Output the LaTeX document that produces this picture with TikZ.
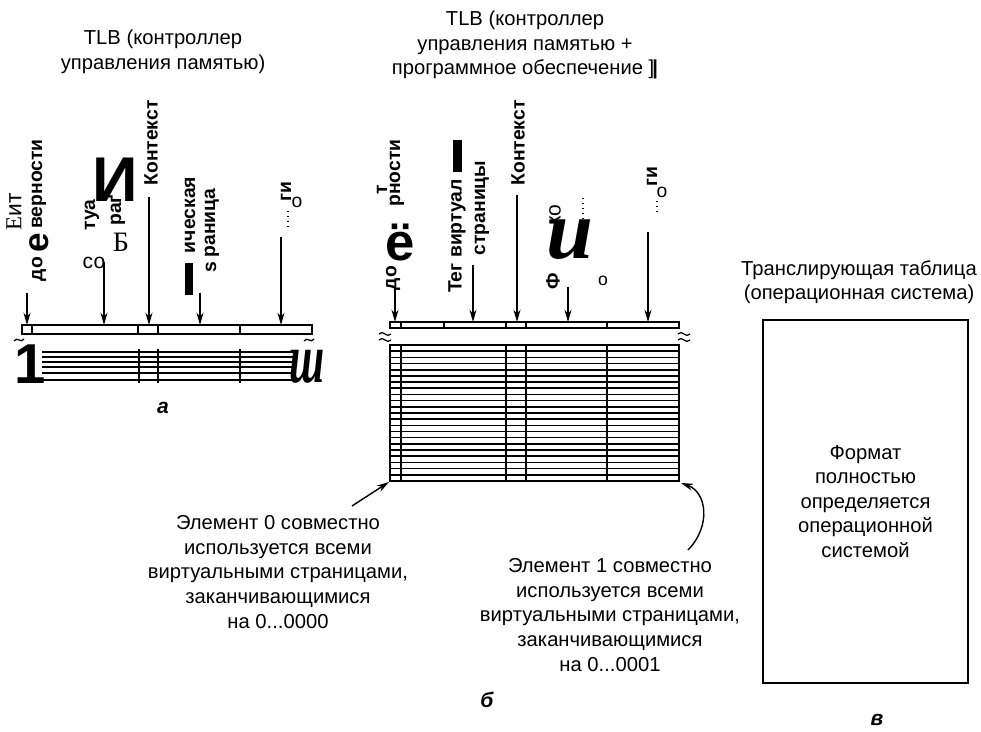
\documentclass[tikz,border=0pt]{standalone}
\usepackage{fontspec}
\setmainfont{Liberation Sans}
\newfontfamily\serifcyr{Liberation Serif}
\usetikzlibrary{arrows.meta}

\begin{document}
\begin{tikzpicture}[x=0.02cm,y=-0.02cm,
  txt/.style={font=\fontsize{11.5}{14}\selectfont,align=center,inner sep=0},
  vtxt/.style={rotate=90,font=\fontsize{11}{13}\selectfont\bfseries,inner sep=0},
  blob/.style={font=\fontsize{#1}{#1}\selectfont\bfseries,inner sep=0},
  ptr/.style={-{Stealth[length=7pt,width=4pt]},line width=0.8pt},
  rule/.style={line width=0.7pt},
  heavy/.style={line width=1.1pt},
  wave/.style={line width=0.7pt},
  tag/.style={font=\fontsize{12}{14}\selectfont\bfseries\itshape,inner sep=0}]
  \useasboundingbox (0,0) rectangle (981,732);

  % a
  \node[txt] (tlba) at (163,52) {TLB (контроллер\\управления памятью)};
  \node[vtxt,font=\fontsize{13}{13}\selectfont] (bita) at (14,212) {{\serifcyr Е}ит};
  \node[vtxt] (doa) at (39,269) {до};
  \node[vtxt,blob=20] (ea) at (39,243) {е};
  \node[vtxt] (vera) at (39,184) {верности};
  \node[vtxt] (tuaa) at (92,215) {туа};
  \node[vtxt] (raa) at (116,210) {раґ};
  \node[font=\serifcyr\fontsize{16}{16}\selectfont,inner sep=0] (bba) at (121,242) {Б};
  \node[font=\fontsize{12}{12}\selectfont,inner sep=0] (coa) at (94,263) {со};
  \node[blob=36] (iia) at (115,180) {И};
  \node[vtxt] (ctxa) at (151,143) {Контекст};
  \node[vtxt] (phya) at (190,215) {ическая};
  \node[vtxt] (pagea) at (212,223) {раница};
  \node[vtxt] (sa) at (211,267) {s};
  \fill (185,263) rectangle (193,295);
  \node[vtxt] (gia) at (286,192) {ги};
  \node[font=\fontsize{11}{11}\selectfont,inner sep=0] (oa) at (297,202) {о};
  \draw[dotted,line width=0.8pt] (288,211)--(288,229);
  \foreach \n/\x/\y in {1/27/293,2/104/262,3/149/197,4/200/293,5/281/237} {
    \coordinate (as\n) at (\x,\y);
    \coordinate (ae\n) at (\x,325);
    \draw[ptr] (as\n)--(ae\n);
  }
  \draw[rule] (22,325) rectangle (312,334);
  \foreach \x in {32,138,158,240} \draw[rule] (\x,325)--(\x,334);
  \foreach \x in {19,309}
    \draw[wave] (\x-5,341) .. controls (\x-2,336) and (\x+2,344) .. (\x+5,339);
  \foreach \y in {352,357,362,367,373,380} \draw[heavy] (42,\y)--(293,\y);
  \foreach \x in {139,158,240} \draw[heavy] (\x,349)--(\x,383);
  \node[blob=32,anchor=base] (onea) at (30,384) {1};
  \node[font=\serifcyr\itshape\bfseries\fontsize{40}{40}\selectfont,inner sep=0,xscale=0.6,anchor=base] (sha) at (307,383) {ш};
  \node[tag] (taga) at (163,408) {а};

  % b
  \node[txt] (tlbb) at (525,45) {TLB (контроллер\\управления памятью +\\программное обеспечение ]\textbf{\kern-1pt|}};
  \node[vtxt] (tb) at (382,190) {т};
  \node[vtxt] (verb) at (397,173) {рности};
  \node[vtxt] (dob) at (393,278) {до};
  \node[blob=30] (eb) at (400,243) {ё};
  \fill (453,140) rectangle (462,172);
  \node[vtxt] (tagb) at (457,236) {Тег виртуал};
  \node[vtxt] (pageb) at (482,208) {страницы};
  \node[vtxt] (ctxb) at (518,143) {Контекст};
  \node[vtxt] (fb) at (553,281) {Ф};
  \node[vtxt,font=\fontsize{12}{12}\selectfont] (kob) at (555,215) {ко};
  \node[font=\serifcyr\itshape\bfseries\fontsize{48}{48}\selectfont,inner sep=0] (ub) at (570,240) {u};
  \node[font=\fontsize{10}{10}\selectfont,inner sep=0] (ob) at (603,281) {о};
  \draw[dotted,line width=0.8pt] (583,198)--(583,222);
  \node[vtxt] (gib) at (652,177) {ги};
  \node[font=\fontsize{11}{11}\selectfont,inner sep=0] (o2b) at (662,192) {о};
  \draw[dotted,line width=0.8pt] (657,201)--(657,213);
  \foreach \n/\x/\y in {1/395/287,2/473/265,3/517/195,4/568/287,5/648/232} {
    \coordinate (bs\n) at (\x,\y);
    \coordinate (be\n) at (\x,322);
    \draw[ptr] (bs\n)--(be\n);
  }
  \draw[rule] (390,322) rectangle (679,328);
  \foreach \x in {401,444,506,526,607} \draw[rule] (\x,322)--(\x,328);
  \foreach \x in {385,684}
    \foreach \d in {-3,3}
      \draw[wave] (\x-6,337+\d) .. controls (\x-2,332+\d) and (\x+2,342+\d) .. (\x+6,337+\d);
  \draw[heavy] (390,345) rectangle (679,481);
  \foreach \i in {1,...,21} {
    \pgfmathsetmacro\yy{345+\i*6.18}
    \draw[line width=0.9pt] (390,\yy)--(679,\yy);
  }
  \foreach \x in {401,506,526,607} \draw[heavy] (\x,345)--(\x,481);
  \coordinate (cl) at (389,482);
  \coordinate (cr) at (681,483);
  \node[txt] (el0) at (278,572) {Элемент 0 совместно\\используется всеми\\виртуальными страницами,\\заканчивающимися\\на 0...0000};
  \node[txt] (el1) at (610,615) {Элемент 1 совместно\\используется всеми\\виртуальными страницами,\\заканчивающимися\\на 0...0001};
  \coordinate (p0) at (352,506);
  \coordinate (p1) at (688,550);
  \draw[ptr] (p0)--(cl);
  \draw[ptr] (p1) .. controls (712,525) and (706,492) .. (cr);
  \node[tag] (tagbb) at (487,700) {б};

  % c
  \node[txt] (ttl) at (859,282) {Транслирующая таблица\\(операционная система)};
  \node[draw,line width=1pt,minimum width=4.1cm,minimum height=7.26cm,txt] (ost) at (865.5,501.5) {Формат\\полностью\\определяется\\операционной\\системой};
  \node[tag] (tagc) at (877,720) {в};
\end{tikzpicture}
\end{document}
